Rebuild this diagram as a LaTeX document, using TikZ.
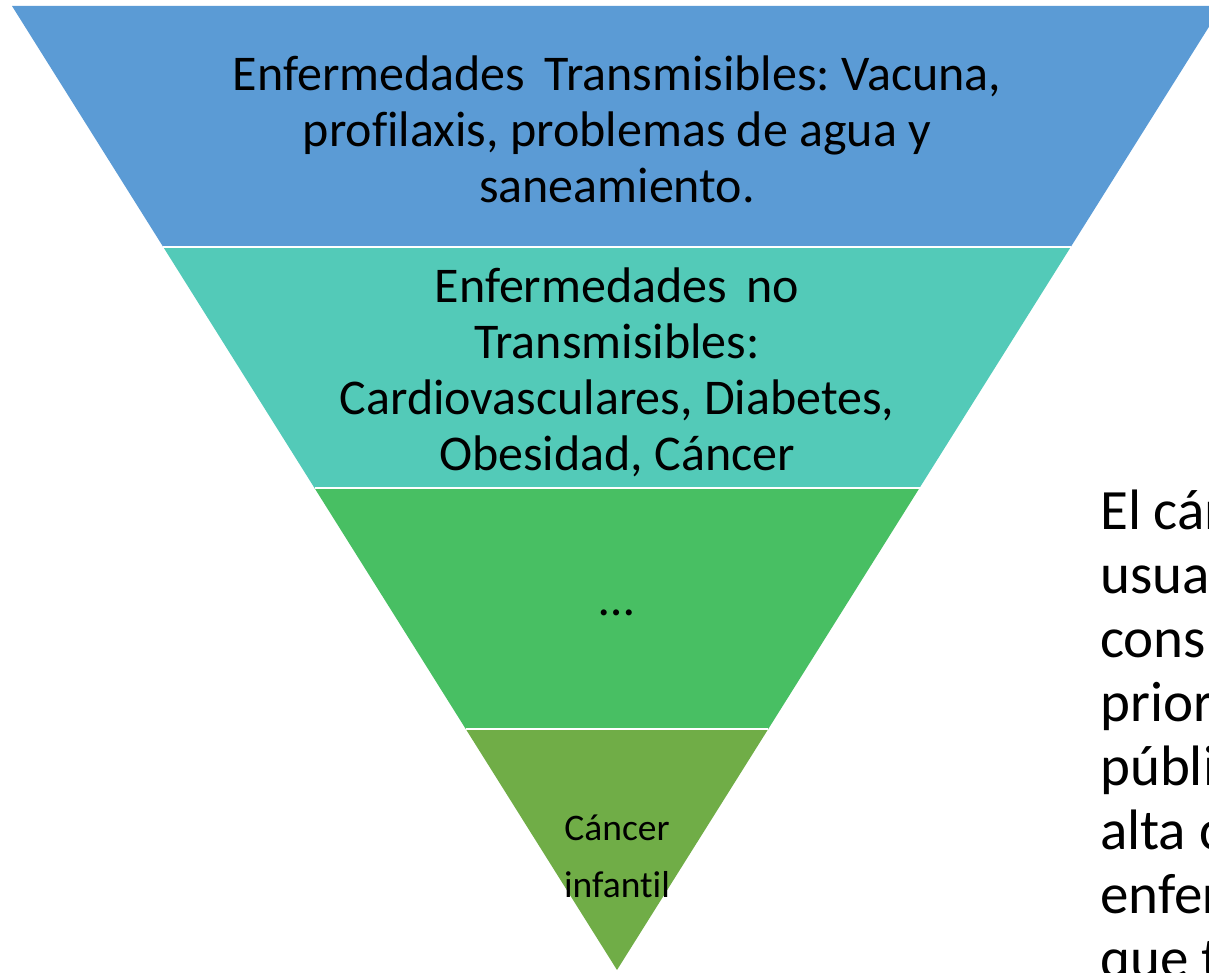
\documentclass[tikz,border=0pt]{standalone}
\usepackage{fontspec}
\setmainfont[Ligatures=NoCommon]{Carlito}
\usetikzlibrary{calc}
\frenchspacing

\definecolor{bandA}{HTML}{5B9BD5}
\definecolor{bandB}{HTML}{53CAB8}
\definecolor{bandC}{HTML}{48BF63}
\definecolor{bandD}{HTML}{70AD47}

\begin{document}
\begin{tikzpicture}[x=1pt, y=-1pt,
  sep/.style={white, line width=2.5pt},
  bandtext/.style={align=center, inner sep=0pt, font=\fontsize{50}{56}\selectfont},
  smalltext/.style={align=center, inner sep=0pt, font=\fontsize{37.5}{57}\selectfont},
  sidetext/.style={align=left, inner sep=0pt, anchor=north west, font=\fontsize{57}{64}\selectfont}]

\newcommand\MidX{617}
\newcommand\TopY{6}
\newcommand\TipY{970}

\useasboundingbox (0,0) rectangle (1209,973);
\clip (0,0) rectangle (1209,973);

\coordinate (tip) at (\MidX, \TipY);
\coordinate (tl) at (12, \TopY);
\coordinate (tr) at (1222, \TopY);

\coordinate (l1) at ($(tip)!0.75!(tl)$);
\coordinate (r1) at ($(tip)!0.75!(tr)$);
\coordinate (l2) at ($(tip)!0.5!(tl)$);
\coordinate (r2) at ($(tip)!0.5!(tr)$);
\coordinate (l3) at ($(tip)!0.25!(tl)$);
\coordinate (r3) at ($(tip)!0.25!(tr)$);

%% the four bands
\fill[bandA] (tl) -- (tr) -- (r1) -- (l1) -- cycle;
\fill[bandB] (l1) -- (r1) -- (r2) -- (l2) -- cycle;
\fill[bandC] (l2) -- (r2) -- (r3) -- (l3) -- cycle;
\fill[bandD] (l3) -- (r3) -- (tip) -- cycle;

\draw[sep] (l1) -- (r1);
\draw[sep] (l2) -- (r2);
\draw[sep] (l3) -- (r3);

%% band labels
\node[bandtext] (trans) at (\MidX, 129)
  {Enfermedades\ \,Transmisibles: Vacuna,\\ profilaxis, problemas de agua y\\ saneamiento.};
\node[bandtext] (notrans) at (\MidX, 372)
  {Enfermedades\ \,no\\ Transmisibles:\\ Cardiovasculares, Diabetes,\\ Obesidad, Cáncer};
\node[bandtext] (dots) at (\MidX, 613) {\ldots};
\node[smalltext] (infantil) at (\MidX, 856) {Cáncer\\ infantil};

%% side text, cut by the page edge
\node[sidetext] (nota) at (1100, 490)
  {El cáncer infantil\\ usualmente no es\\ considerado una\\ prioridad de salud\\ pública ante la\\ alta carga de\\ enfermedades\\ que tiene};

\end{tikzpicture}
\end{document}
